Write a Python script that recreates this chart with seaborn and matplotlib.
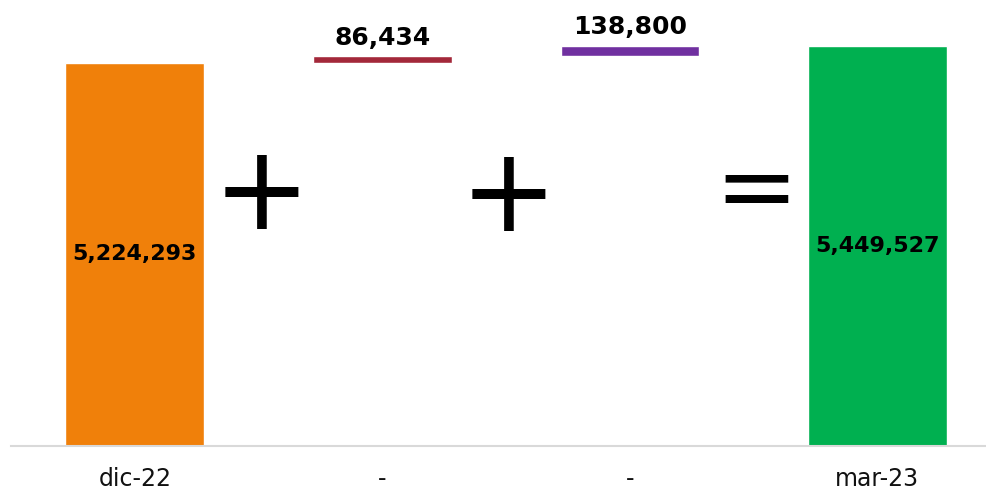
import matplotlib
matplotlib.use("Agg")
import matplotlib.pyplot as plt
import seaborn as sns
import pandas as pd

# data
labels = ["dic-22", "-", "-", "mar-23"]
values = [5224293, 86434, 138800, 5449527]
bases = [0, 5224293, 5224293 + 86434, 0]
colors = ["#F0800A", "#A3283A", "#7030A0", "#00B050"]
symbols = ["+", "+", "="]

df = pd.DataFrame({"pos": range(len(labels)), "value": values, "base": bases})
df["top"] = df["value"] + df["base"]

sns.set_style("white")
plt.rcParams["font.family"] = ["DejaVu Sans"]
plt.rcParams["text.color"] = "black"

fig = plt.figure(figsize=(9.87, 4.93), dpi=100)
ax = fig.add_axes([11 / 987, 47 / 493, 976 / 987, 446 / 493])

# full bar tops, then white bases to make floating steps
sns.barplot(data=df, x="pos", y="top", hue="pos", palette=colors, legend=False,
            width=0.56, ax=ax, saturation=1)
sns.barplot(data=df, x="pos", y="base", color="white", width=0.58, ax=ax,
            saturation=1)

ax.set_xlim(-0.5, 3.443)
ax.set_ylim(0, 6076000)

for i, row in df.iterrows():
    txt = f"{row['value']:,}"
    if row["base"] == 0:
        ax.text(i, row["top"] / 2, txt, ha="center", va="center",
                fontsize=16, fontweight="bold", color="black")
    else:
        ax.text(i, row["top"] + 90000, txt, ha="center", va="bottom",
                fontsize=18, fontweight="bold", color="black")

sym_y = [0.588, 0.584, 0.592]
for k, s in enumerate(symbols):
    ax.text(k + 0.51, sym_y[k], s, transform=ax.get_xaxis_transform(),
            ha="center", va="center_baseline", fontsize=84 if s == "+" else 72,
            color="black")

ax.set_xticks(range(len(labels)))
ax.set_xticklabels(labels, fontsize=17, color="#111111")
ax.tick_params(axis="x", length=0, pad=15)
ax.set_yticks([])
ax.set_xlabel("")
ax.set_ylabel("")
for side in ["top", "left", "right"]:
    ax.spines[side].set_visible(False)
ax.spines["bottom"].set_color("#d9d9d9")
ax.spines["bottom"].set_linewidth(1.5)

fig.savefig("out.png", dpi=100)
